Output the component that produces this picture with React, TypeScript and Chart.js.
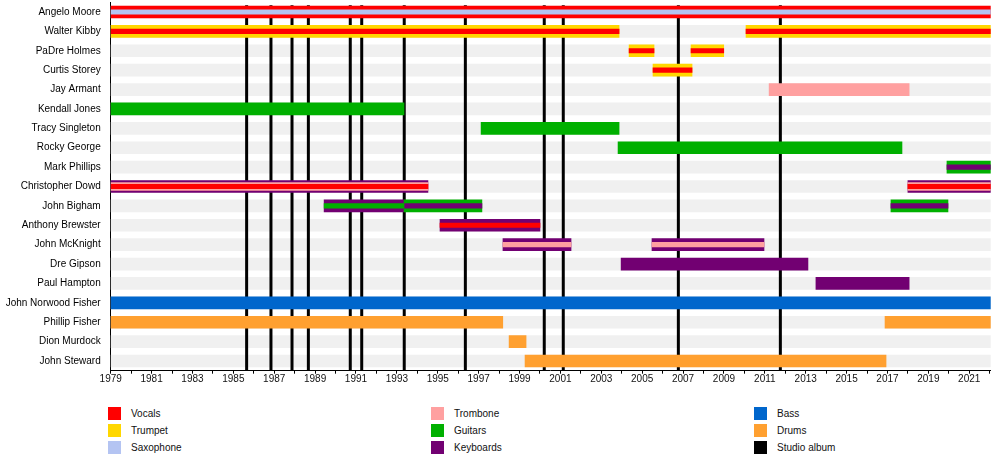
import { useEffect, useRef } from "react"
import { Chart, registerables } from "chart.js"

Chart.register(...registerables)

// end of the timeline (present day)
const END = 2022.05

const members = [
  "Angelo Moore",
  "Walter Kibby",
  "PaDre Holmes",
  "Curtis Storey",
  "Jay Armant",
  "Kendall Jones",
  "Tracy Singleton",
  "Rocky George",
  "Mark Phillips",
  "Christopher Dowd",
  "John Bigham",
  "Anthony Brewster",
  "John McKnight",
  "Dre Gipson",
  "Paul Hampton",
  "John Norwood Fisher",
  "Phillip Fisher",
  "Dion Murdock",
  "John Steward",
]

const studioAlbums = [1985.65, 1986.84, 1987.87, 1988.67, 1990.72, 1991.28, 1993.36, 1996.35, 2000.21, 2001.14, 2006.77, 2011.76]

const yearLabels = [1979, 1981, 1983, 1985, 1987, 1989, 1991, 1993, 1995, 1997, 1999, 2001, 2003, 2005, 2007, 2009, 2011, 2013, 2015, 2017, 2019, 2021]

type Span = [string, number, number]

// main role (full bar)
const vocalsMain: Span[] = [["Angelo Moore", 1979, END]]
const trumpetMain: Span[] = [
  ["Walter Kibby", 1979, 2003.87],
  ["Walter Kibby", 2010.08, END],
  ["PaDre Holmes", 2004.36, 2005.58],
  ["PaDre Holmes", 2007.39, 2008.99],
  ["Curtis Storey", 2005.53, 2007.44],
]
const tromboneMain: Span[] = [["Jay Armant", 2011.21, 2018.06]]
const guitarsMain: Span[] = [
  ["Kendall Jones", 1979, 1993.35],
  ["Tracy Singleton", 1997.12, 2003.87],
  ["Rocky George", 2003.82, 2017.71],
  ["Mark Phillips", 2019.91, END],
  ["John Bigham", 1993.35, 1997.16],
  ["John Bigham", 2017.17, 2019.96],
]
const keyboardsMain: Span[] = [
  ["Christopher Dowd", 1979, 1994.52],
  ["Christopher Dowd", 2018.0, END],
  ["John Bigham", 1989.44, 1993.35],
  ["Anthony Brewster", 1995.11, 2000.0],
  ["John McKnight", 1998.19, 2001.52],
  ["John McKnight", 2005.48, 2010.96],
  ["Dre Gipson", 2003.97, 2013.11],
  ["Paul Hampton", 2013.5, 2018.06],
]
const bassMain: Span[] = [["John Norwood Fisher", 1979, END]]
const drumsMain: Span[] = [
  ["Phillip Fisher", 1979, 1998.18],
  ["Phillip Fisher", 2016.88, END],
  ["Dion Murdock", 1998.49, 1999.32],
  ["John Steward", 1999.27, 2016.93],
]

// second role (middle bar)
const tromboneMid: Span[] = [
  ["Christopher Dowd", 1979, 1994.52],
  ["Christopher Dowd", 2018.0, END],
]

// extra role (thin centre stripe)
const saxophoneThin: Span[] = [["Angelo Moore", 1979, END]]
const vocalsThin: Span[] = [
  ["Walter Kibby", 1979, 2003.87],
  ["Walter Kibby", 2010.08, END],
  ["PaDre Holmes", 2004.36, 2005.58],
  ["PaDre Holmes", 2007.39, 2008.99],
  ["Curtis Storey", 2005.53, 2007.44],
  ["Christopher Dowd", 1979, 1994.52],
  ["Christopher Dowd", 2018.0, END],
  ["Anthony Brewster", 1995.11, 2000.0],
]
const guitarsThin: Span[] = [["John Bigham", 1989.44, 1993.35]]
const keyboardsThin: Span[] = [
  ["John Bigham", 1993.35, 1997.16],
  ["John Bigham", 2017.17, 2019.96],
  ["Mark Phillips", 2019.91, END],
]
const tromboneThin: Span[] = [
  ["John McKnight", 1998.19, 2001.52],
  ["John McKnight", 2005.48, 2010.96],
]

const colors = {
  vocals: "#ff0000",
  trumpet: "#ffd700",
  saxophone: "#b4c4f2",
  trombone: "#ffa0a0",
  guitars: "#00b000",
  keyboards: "#720072",
  bass: "#0066cc",
  drums: "#ffa030",
  album: "#000000",
}

const legendItems: [string, string][] = [
  ["Vocals", colors.vocals],
  ["Trumpet", colors.trumpet],
  ["Saxophone", colors.saxophone],
  ["Trombone", colors.trombone],
  ["Guitars", colors.guitars],
  ["Keyboards", colors.keyboards],
  ["Bass", colors.bass],
  ["Drums", colors.drums],
  ["Studio album", colors.album],
]

const FULL = 12
const MID = 8
const THIN = 4.5

const layer = (label: string, spans: Span[], color: string, thickness: number, order: number) => ({
  label,
  data: spans.map(([name, start, end]) => ({ x: [start, end], y: name })),
  backgroundColor: color,
  borderWidth: 0,
  barThickness: thickness,
  grouped: false,
  order,
})

// black album lines go on top of the grey row stripes, below the members
const albumLines = {
  id: "albumLines",
  afterDatasetDraw(chart: any, args: any) {
    if (args.index !== 0) return
    const { ctx, chartArea, scales } = chart
    ctx.save()
    ctx.strokeStyle = colors.album
    ctx.lineWidth = 3
    studioAlbums.forEach((year) => {
      const px = scales.x.getPixelForValue(year)
      ctx.beginPath()
      ctx.moveTo(px, chartArea.top + 3)
      ctx.lineTo(px, chartArea.bottom)
      ctx.stroke()
    })
    ctx.restore()
  },
}

Chart.defaults.font.family = "'Liberation Sans', Arial, sans-serif"
Chart.defaults.font.size = 10

function Timeline() {
  const chartRef = useRef<HTMLCanvasElement>(null)

  useEffect(() => {
    if (!chartRef.current) return
    const ctx = chartRef.current.getContext("2d")
    if (!ctx) return

    const stripes: Span[] = members.map((m) => [m, 1979, END])

    const chart = new Chart(ctx, {
      type: "bar",
      data: {
        labels: members,
        datasets: [
          layer("rows", stripes, "#f0f0f0", FULL, 10),
          layer("Vocals", vocalsMain, colors.vocals, FULL, 5),
          layer("Trumpet", trumpetMain, colors.trumpet, FULL, 5),
          layer("Trombone", tromboneMain, colors.trombone, FULL, 5),
          layer("Guitars", guitarsMain, colors.guitars, FULL, 5),
          layer("Keyboards", keyboardsMain, colors.keyboards, FULL, 5),
          layer("Bass", bassMain, colors.bass, FULL, 5),
          layer("Drums", drumsMain, colors.drums, FULL, 5),
          layer("Trombone 2", tromboneMid, colors.trombone, MID, 3),
          layer("Saxophone 2", saxophoneThin, colors.saxophone, THIN, 1),
          layer("Vocals 2", vocalsThin, colors.vocals, THIN, 1),
          layer("Guitars 2", guitarsThin, colors.guitars, THIN, 1),
          layer("Keyboards 2", keyboardsThin, colors.keyboards, THIN, 1),
          layer("Trombone 3", tromboneThin, colors.trombone, THIN, 1),
        ] as any,
      },
      options: {
        indexAxis: "y",
        animation: false,
        responsive: true,
        maintainAspectRatio: false,
        layout: { padding: { top: 2.3, right: 9.3, left: 0, bottom: 0 } },
        plugins: {
          legend: { display: false },
          tooltip: { enabled: false },
        },
        scales: {
          x: {
            type: "linear",
            min: 1979,
            max: END,
            grid: { drawOnChartArea: false, drawTicks: true, tickLength: 3, color: "#000" },
            border: { color: "#000" },
            ticks: {
              padding: 0,
              color: "#111",
              autoSkip: false,
              maxRotation: 0,
              minRotation: 0,
              callback: (v: any) => (yearLabels.includes(v) ? String(v) : ""),
            },
            afterBuildTicks: (scale: any) => {
              const ticks = []
              for (let y = 1979; y <= 2022; y++) ticks.push({ value: y })
              scale.ticks = ticks
            },
            afterFit: (scale: any) => {
              scale.height = 24.3
            },
          },
          y: {
            type: "category",
            offset: true,
            grid: { display: false, drawTicks: false },
            border: { color: "#000" },
            ticks: { padding: 10, color: "#000" },
            afterFit: (scale: any) => {
              scale.width = 110.7
              scale.paddingTop = 0
              scale.paddingBottom = 0
            },
          },
        },
      },
      plugins: [albumLines],
    })

    return () => chart.destroy()
  }, [])

  return (
    <div style={{ position: "absolute", left: 0, top: 0, width: 1000, height: 395 }}>
      <canvas ref={chartRef} />
    </div>
  )
}

const legendCols = [108, 431, 754]
const legendRows = [407, 424, 441]

export default function App() {
  return (
    <div style={{ fontFamily: "'Liberation Sans', Arial, sans-serif" }}>
      <Timeline />
      {legendItems.map(([label, color], i) => {
        const left = legendCols[Math.floor(i / 3)]
        const top = legendRows[i % 3]
        return (
          <div key={label} style={{ position: "absolute", left, top, height: 13, display: "flex", alignItems: "center" }}>
            <span style={{ display: "inline-block", width: 13, height: 13, background: color }} />
            <span style={{ marginLeft: 10, fontSize: 10, color: "#111", lineHeight: "13px" }}>{label}</span>
          </div>
        )
      })}
    </div>
  )
}
